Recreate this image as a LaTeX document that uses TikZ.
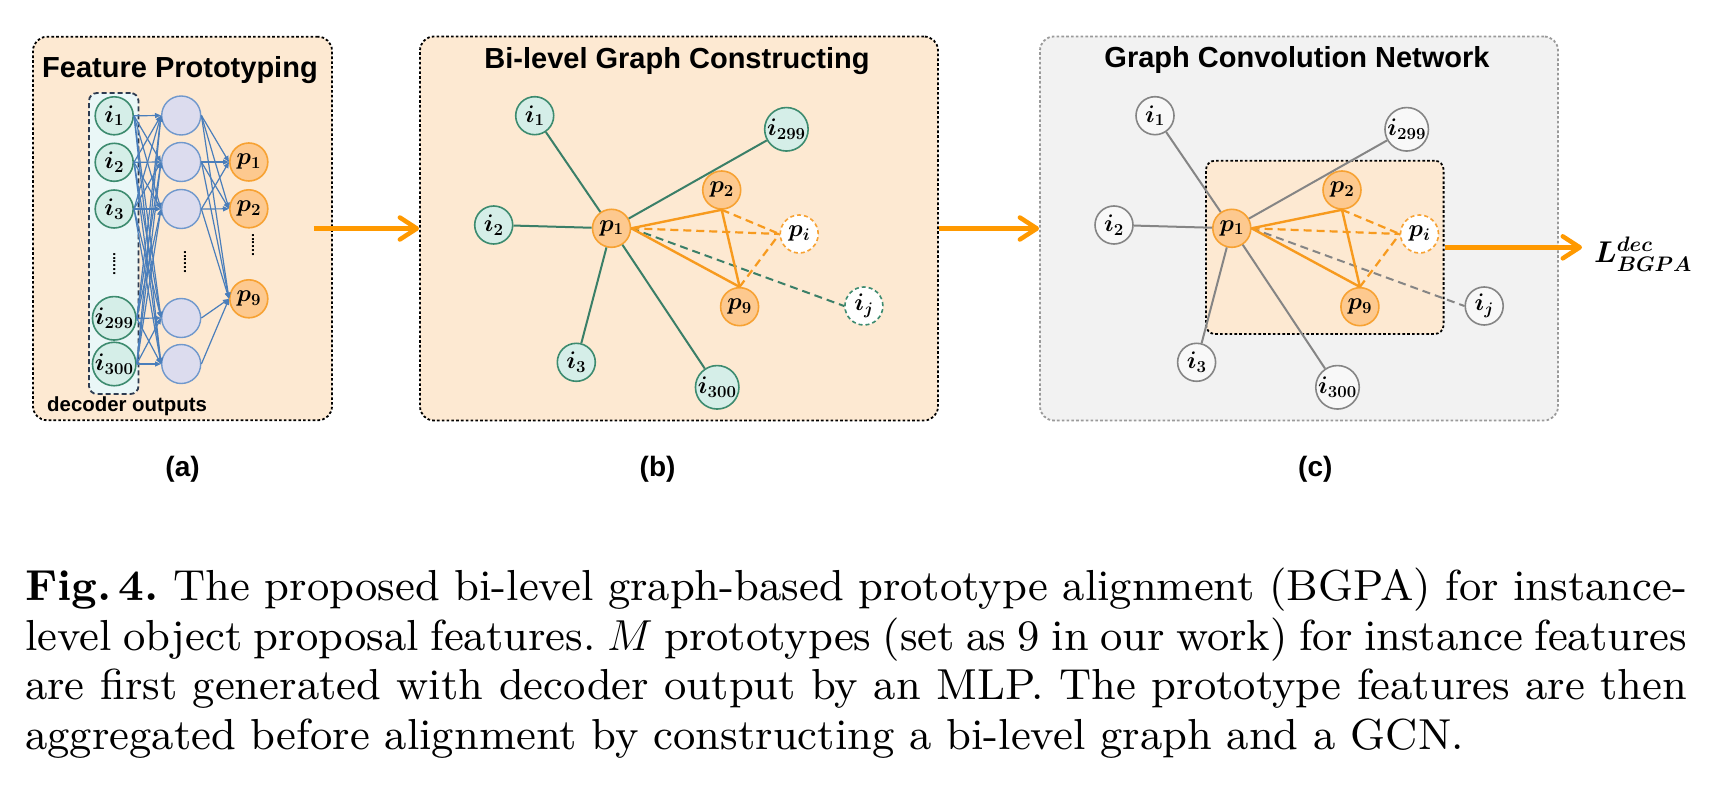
\RequirePackage{fix-cm}
\documentclass[tikz,border=0pt]{standalone}
\usepackage{amsmath}
\usepackage{fontspec}
\usetikzlibrary{arrows.meta}
\newfontfamily\arialf{Liberation Sans}
\newfontfamily\capfont{lmroman9-regular.otf}[BoldFont=lmroman9-bold.otf]
\definecolor{peach}{HTML}{FDE9D2}
\definecolor{graybg}{HTML}{F2F2F2}
\definecolor{graydash}{HTML}{9A9A9A}
\definecolor{mintfill}{HTML}{D5EEE8}
\definecolor{mintdraw}{HTML}{3D8B6F}
\definecolor{greenedge}{HTML}{3A7F68}
\definecolor{lavfill}{HTML}{DCDCEE}
\definecolor{lavdraw}{HTML}{7098CC}
\definecolor{mlpblue}{HTML}{4A7EBB}
\definecolor{orfill}{HTML}{FDC98F}
\definecolor{ordraw}{HTML}{F7A233}
\definecolor{oredge}{HTML}{F79A1E}
\definecolor{arrowor}{HTML}{FF9900}
\definecolor{decfill}{HTML}{EAF7F7}
\definecolor{decdraw}{HTML}{2E3B50}
\definecolor{gnode}{HTML}{858585}
\definecolor{gnodefill}{HTML}{F8F8F8}
\newcommand\nl[1]{$\boldsymbol{#1}$}
\newcommand\capline[1]{\makebox[1662pt][s]{#1}}
\begin{document}
\begin{tikzpicture}[x=1pt,y=-1pt,
  panel/.style={draw=black, line width=1.8pt, dash pattern=on 2.6pt off 2.2pt, rounded corners=14pt, inner sep=0pt},
  decbox/.style={draw=decdraw, fill=decfill, line width=1.8pt, dash pattern=on 5pt off 3pt, rounded corners=8pt, inner sep=0pt},
  title/.style={font=\arialf\bfseries\fontsize{29}{32}\selectfont, inner sep=0pt, anchor=base},
  sublabel/.style={font=\arialf\bfseries\fontsize{28}{32}\selectfont, inner sep=0pt, anchor=base},
  gnodebase/.style={circle, minimum size=38pt, inner sep=0pt, line width=1.6pt, font=\fontsize{24}{26}\selectfont},
  inode/.style={gnodebase, fill=mintfill, draw=mintdraw},
  hnode/.style={circle, minimum size=39pt, inner sep=0pt, line width=1.4pt, fill=lavfill, draw=lavdraw},
  pnode/.style={gnodebase, fill=orfill, draw=ordraw},
  pinode/.style={gnodebase, fill=white, draw=ordraw, dash pattern=on 4pt off 3pt},
  ijnode/.style={gnodebase, fill=white, draw=mintdraw, dash pattern=on 4pt off 3pt},
  cnode/.style={gnodebase, fill=gnodefill, draw=gnode},
  vdotsnode/.style={rotate=90, font=\arialf\bfseries\fontsize{14}{16}\selectfont, inner sep=0pt},
  mlp/.style={draw=mlpblue, line width=1.2pt, -{Triangle[length=6pt,width=5pt]}},
  gedge/.style={draw=greenedge, line width=2pt},
  oedge/.style={draw=oredge, line width=2.4pt},
  odash/.style={draw=oredge, line width=2.2pt, dash pattern=on 8pt off 5pt},
  gdash/.style={draw=greenedge, line width=2pt, dash pattern=on 8pt off 5pt},
  cedge/.style={draw=gnode, line width=2pt},
  cdash/.style={draw=gnode, line width=2pt, dash pattern=on 8pt off 5pt},
  bigarrow/.style={draw=arrowor, line width=4.5pt, -{Straight Barb[length=17pt,width=22pt,round]}}
]
\useasboundingbox (0,0) rectangle (1720,786);
\fill[white] (0,0) rectangle (1720,786);

% ---------- panels ----------
\node[panel, fill=peach, minimum width=299pt, minimum height=383.5pt] (boxa) at (182.5,228.5) {};
\node[panel, fill=peach, minimum width=518pt, minimum height=384pt] (boxb) at (679,228.5) {};
\node[panel, draw=graydash, fill=graybg, minimum width=518pt, minimum height=384pt] (boxc) at (1299,228.5) {};

\node[title] (ta) at (180,77.7) {Feature Prototyping};
\node[title] (tb) at (677,68.3) {Bi-level Graph Constructing};
\node[title] (tc) at (1297,68) {Graph Convolution Network};

% ---------- (a) MLP ----------
\node[decbox, minimum width=49.5pt, minimum height=301pt] (dec) at (113.75,243.5) {};
\node[font=\arialf\bfseries\fontsize{20.4}{24}\selectfont, inner sep=0pt, anchor=base west] (decl) at (47,411.7) {decoder outputs};

\foreach \n/\y/\l in {1/115.8/1, 2/162.3/2, 3/209/3, 4/318.3/299, 5/364/300}
  \node[inode] (a\n) at (114.2,\y) {\nl{i_{\l}}};
\foreach \n/\y in {1/115.5, 2/162, 3/209, 4/318, 5/364}
  \node[hnode] (h\n) at (181.2,\y) {};
\node[pnode] (pa1) at (248.8,162) {\nl{p_{1}}};
\node[pnode] (pa2) at (248.8,208.8) {\nl{p_{2}}};
\node[pnode] (pa9) at (248.8,298.8) {\nl{p_{9}}};

\node[vdotsnode] (da) at (114.3,264) {......};
\node[vdotsnode] (dh) at (185,262) {......};
\node[vdotsnode] (dp) at (253,245) {......};

\foreach \s in {1,...,5}
  \foreach \t in {1,...,5}
    \draw[mlp] (a\s.east) -- (h\t.west);
\foreach \s in {1,2,3}
  \foreach \t in {1,2,9}
    \draw[mlp] (h\s.east) -- (pa\t.west);
\draw[mlp] (h4.east) -- (pa9.west);
\draw[mlp] (h5.east) -- (pa9.west);

% ---------- (b) bi-level graph ----------
\node[inode] (bi1) at (534.7,115.7) {\nl{i_{1}}};
\node[inode] (bi299) at (786.4,129.3) {\nl{i_{299}}};
\node[inode] (bi2) at (493.7,225) {\nl{i_{2}}};
\node[inode] (bi3) at (576.3,362.3) {\nl{i_{3}}};
\node[inode] (bi300) at (717.2,387.3) {\nl{i_{300}}};
\node[pnode] (bp1) at (611.5,228.3) {\nl{p_{1}}};
\node[pnode] (bp2) at (721.7,190) {\nl{p_{2}}};
\node[pnode] (bp9) at (739.6,306.7) {\nl{p_{9}}};
\node[pinode] (bpi) at (799.2,234) {\nl{p_{i}}};
\node[ijnode] (bij) at (863.9,306) {\nl{i_{j}}};

\foreach \t in {bi1,bi2,bi3,bi300,bi299}
  \draw[gedge] (bp1) -- (\t);
\draw[gdash] (bp1.east) -- (bij.west);
\draw[oedge] (bp1.east) -- (bp2.south);
\draw[oedge] (bp1.east) -- (bp9.north);
\draw[oedge] (bp2.south) -- (bp9.north);
\draw[odash] (bp1.east) -- (bpi.west);
\draw[odash] (bp2.south) -- (bpi.west);
\draw[odash] (bp9.north) -- (bpi.west);

% ---------- (c) GCN ----------
\node[panel, fill=peach, minimum width=237.6pt, minimum height=173.3pt, rounded corners=9pt] (inner) at (1324.8,247.35) {};
\node[cnode] (ci1) at (1155,115.7) {\nl{i_{1}}};
\node[cnode] (ci299) at (1406.7,129.3) {\nl{i_{299}}};
\node[cnode] (ci2) at (1114,225) {\nl{i_{2}}};
\node[cnode] (ci3) at (1196.6,362.3) {\nl{i_{3}}};
\node[cnode] (ci300) at (1337.5,387.3) {\nl{i_{300}}};
\node[pnode] (cp1) at (1231.8,228.3) {\nl{p_{1}}};
\node[pnode] (cp2) at (1342,190) {\nl{p_{2}}};
\node[pnode] (cp9) at (1359.9,306.7) {\nl{p_{9}}};
\node[pinode] (cpi) at (1419.5,234) {\nl{p_{i}}};
\node[cnode] (cij) at (1484.2,306) {\nl{i_{j}}};

\foreach \t in {ci1,ci2,ci3,ci300,ci299}
  \draw[cedge] (cp1) -- (\t);
\draw[cdash] (cp1.east) -- (cij.west);
\draw[oedge] (cp1.east) -- (cp2.south);
\draw[oedge] (cp1.east) -- (cp9.north);
\draw[oedge] (cp2.south) -- (cp9.north);
\draw[odash] (cp1.east) -- (cpi.west);
\draw[odash] (cp2.south) -- (cpi.west);
\draw[odash] (cp9.north) -- (cpi.west);

% ---------- arrows ----------
\draw[bigarrow] ([xshift=-19pt]boxa.east) -- (boxb.west);
\draw[bigarrow] (boxb.east) -- (boxc.west);
\node[inner sep=0pt, anchor=base west, font=\fontsize{30}{33}\selectfont] (loss) at (1594,262) {$\boldsymbol{L^{dec}_{BGPA}}$};
\coordinate (outtip) at (1582,247.35);
\draw[bigarrow] (inner.east) -- (outtip);

% ---------- sub labels ----------
\node[sublabel] (la) at (182.6,476.5) {(a)};
\node[sublabel] (lb) at (657.6,476.5) {(b)};
\node[sublabel] (lc) at (1315.3,476.5) {(c)};

% ---------- caption ----------
\node[anchor=north west, inner sep=0pt, text width=1662pt, align=left,
      font=\capfont\fontsize{43.4}{49.5}\selectfont\frenchspacing] (cap) at (25,568) {%
\spaceskip=0pt \xspaceskip=0pt
\capline{\textbf{Fig.\thinspace 4.} The proposed bi-level graph-based prototype alignment (BGPA) for instance-}\\
\capline{level object proposal features. $M$ prototypes (set as 9 in our work) for instance features}\\
\capline{are first generated with decoder output by an MLP. The prototype features are then}\\
aggregated before alignment by constructing a bi-level graph and a GCN.};
\end{tikzpicture}
\end{document}
